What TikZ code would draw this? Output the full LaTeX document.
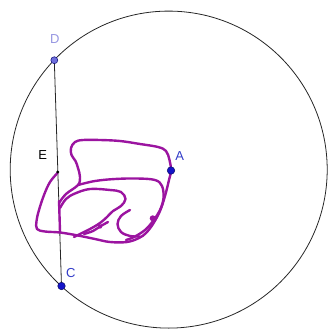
\documentclass[tikz,border=0pt]{standalone}
\usepackage{fontspec}
\setmainfont{Liberation Sans}
\begin{document}
\begin{tikzpicture}[x=1pt,y=-1pt,
  scrib/.style={draw=scribble,line width=2.4pt,line cap=round,line join=round},
  ptlabel/.style={font=\fontsize{13}{14}\selectfont,inner sep=0pt}]
\definecolor{scribble}{RGB}{155,20,160}
\definecolor{ptblue}{RGB}{20,20,200}
\definecolor{ptlight}{RGB}{110,110,220}
\definecolor{lbllight}{RGB}{150,150,225}
\definecolor{lblblue}{RGB}{50,60,200}
\useasboundingbox (0,0) rectangle (328,329);
% circle
\node[circle,draw=black!85,line width=0.8pt,minimum size=317pt,inner sep=0pt] (circ) at (168.7,169.6) {};
% points
\coordinate (D) at (54.3,60.2);
\coordinate (C) at (61.5,286);
\coordinate (A) at (171,170.5);
\coordinate (E) at (57.8,172);
% segment DC
\draw[black!85,line width=0.8pt] (D) -- (C);
% scribble
\draw[scrib] plot[smooth,tension=0.6] coordinates {
 (57.5,173) (50,182) (44,195) (39,210) (36.5,221) (37,229) (45,231.5) (60,232.5)
 (78,235.5) (95,239) (110,242) (127,242) (139,238) (146,233) (153,224) (160,211)
 (165,196) (169,180) (171,170.5) (169.5,160) (166,151) (158,147) (140,144)
 (120,141) (100,140) (83,140) (75,142) (71,148) (71.5,155) (75.5,161) (78,168)
 (80,177) (78,185) (66,194) (59,203)};
\draw[scrib] plot[smooth,tension=0.6] coordinates {
 (78,185) (95,181) (115,179) (137,178.5) (155,180) (162,186) (163.5,198)
 (160,210) (153,221) (145,230) (134,237) (126,240)};
\draw[scrib] plot[smooth,tension=0.6] coordinates {
 (60,208) (66,199) (75,193.5) (90,189) (110,190) (121,192) (125.5,199) (121,206)
 (113,211) (107,217) (100,223) (90,229) (80,234) (74,237)};
\draw[scrib] plot[smooth,tension=0.6] coordinates {
 (59,201) (59.5,215) (60,232)};
\draw[scrib] plot[smooth,tension=0.6] coordinates {
 (130,210) (121,216) (117.5,224) (121,232) (130,236) (140,236.5)};
\draw[scrib] plot[smooth,tension=0.6] coordinates {
 (84,234) (93,231) (100,226.5) (108,222)};
\fill[scribble] (152.7,218.3) circle (3pt);
\fill[scribble] (100,226.5) circle (2.2pt);
% point markers
\fill (E) circle (1.6pt);
\node[circle,fill=ptlight,draw=ptblue!60!black,line width=0.5pt,minimum size=7pt,inner sep=0pt] (Dp) at (D) {};
\node[circle,fill=ptblue,draw=ptblue!50!black,line width=0.5pt,minimum size=7.5pt,inner sep=0pt] (Cp) at (C) {};
\node[circle,fill=ptblue,draw=ptblue!50!black,line width=0.5pt,minimum size=7.5pt,inner sep=0pt] (Ap) at (A) {};
% labels
\node[ptlabel,text=lbllight] (Dl) at (54.7,38.8) {D};
\node[ptlabel,text=lblblue] (Cl) at (70.8,273.2) {C};
\node[ptlabel,text=lblblue] (Al) at (179.7,155.8) {A};
\node[ptlabel,text=black] (El) at (42.7,155) {E};
\end{tikzpicture}
\end{document}
